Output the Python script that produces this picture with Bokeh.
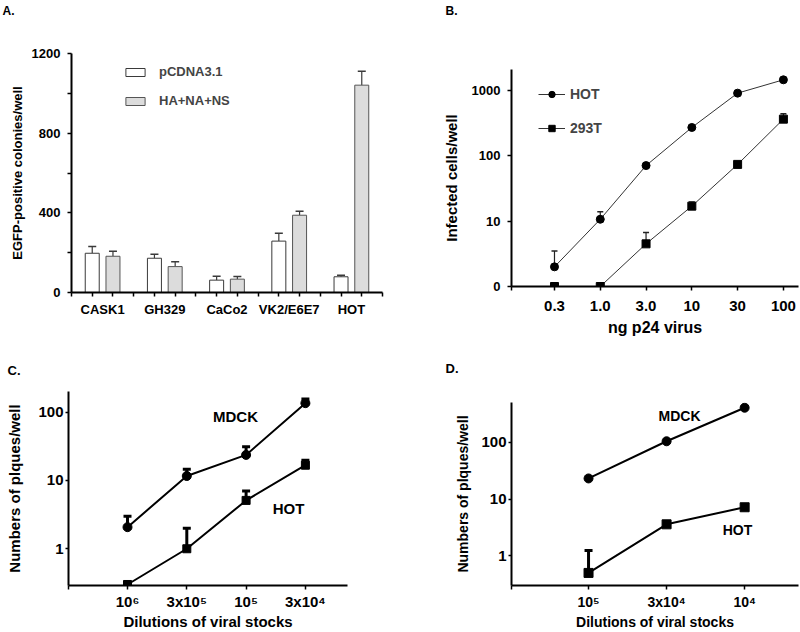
from bokeh.plotting import figure
from bokeh.models import (ColumnDataSource, FixedTicker, Whisker, TeeHead, Legend,
                          LegendItem, Label, Range1d, Title)
from bokeh.layouts import row, column
from bokeh.embed import file_html
from bokeh.resources import INLINE

FONT = "Liberation Sans"

# ---------------- data ----------------
# Panel A
cell_lines = ["CASK1", "GH329", "CaCo2", "VK2/E6E7", "HOT"]
pcdna_values = [197, 172, 62, 258, 79]
pcdna_errors = [34, 20, 20, 40, 8]
hanans_values = [182, 130, 67, 388, 1041]
hanans_errors = [25, 24, 13, 20, 70]
a_yticks = [0, 400, 800, 1200]
a_minor_yticks = [200, 600, 1000]

# Panel B
p24_doses = ["0.3", "1.0", "3.0", "10", "30", "100"]
b_hot_values = [2.0, 10.7, 71, 272, 913, 1460]
b_hot_errors = [1.5, 3.3, 5, 0, 0, 0]
b_293t_values = [1, 1, 4.5, 17, 74, 365]
b_293t_errors = [0, 0, 2.2, 2.6, 0, 76]
b_yticks = [1, 10, 100, 1000]
b_ytick_labels = ["0", "10", "100", "1000"]

# Panel C
c_dilutions = ["10\u2076", "3x10\u2075", "10\u2075", "3x10\u2074"]
c_mdck_values = [2.07, 11.6, 23.6, 135]
c_mdck_errors = [0.93, 3.0, 7.4, 20]
c_hot_values = [0.3, 1.0, 5.1, 16.7]
c_hot_errors = [0, 1.0, 1.9, 3.1]

# Panel D
d_dilutions = ["10\u2075", "3x10\u2074", "10\u2074"]
d_mdck_values = [23.2, 105, 410]
d_hot_values = [0.5, 3.6, 7.2]
d_hot_errors = [0.74, 0, 0]

cd_yticks = [1, 10, 100]


def make_fig(w, h, bl, br, bt, bb, xr, yr, ytype="linear"):
    p = figure(width=w, height=h, x_range=xr, y_range=yr, y_axis_type=ytype,
               output_backend="svg", toolbar_location=None, title=None,
               min_border_left=bl, min_border_right=br,
               min_border_top=bt, min_border_bottom=bb)
    p.frame_align = False
    p.grid.visible = False
    p.outline_line_color = None
    p.background_fill_color = "white"
    for ax in (p.xaxis[0], p.yaxis[0]):
        ax.axis_line_width = 2
        ax.axis_line_color = "black"
        ax.major_tick_line_color = "black"
        ax.major_tick_line_width = 1.5
        ax.minor_tick_line_color = "black"
        ax.minor_tick_line_width = 1.5
        ax.major_tick_in = 0
        ax.minor_tick_in = 0
        ax.major_tick_out = 4
        ax.minor_tick_out = 4
        ax.major_label_text_font = FONT
        ax.major_label_text_font_style = "bold"
        ax.major_label_text_color = "black"
        ax.axis_label_text_font = FONT
        ax.axis_label_text_font_style = "bold"
        ax.axis_label_text_color = "black"
    return p


def panel_title(p, text, offset, gap, size="13px"):
    # spacer title next to the frame, then the panel letter above it
    p.add_layout(Title(text=" ", text_font_size="1px", standoff=gap), "above")
    p.add_layout(Title(text=text, align="left", offset=offset, standoff=0,
                       vertical_align="bottom", text_font=FONT,
                       text_font_style="bold", text_font_size=size,
                       text_color="black"), "above")


def whiskers(p, xs, vals, errs, color, lw, head, hlw):
    keep = [i for i, e in enumerate(errs) if e > 0]
    src = ColumnDataSource(dict(base=[xs[i] for i in keep],
                                lower=[vals[i] for i in keep],
                                upper=[vals[i] + errs[i] for i in keep]))
    w = Whisker(source=src, base="base", lower="lower", upper="upper",
                dimension="height", line_color=color, line_width=lw,
                lower_head=None,
                upper_head=TeeHead(size=head, line_color=color, line_width=hlw))
    p.add_layout(w)


TOP_H = 340
BOT_H = 632 - TOP_H

# ---------------- Panel A ----------------
nA = len(cell_lines)
xa = list(range(1, nA + 1))
off = 1 / 6
pA = make_fig(400, TOP_H, 71, 18, 53, TOP_H - 292, Range1d(0.5, nA + 0.5), Range1d(0, 1200))
srcA = ColumnDataSource(dict(x_pc=[x - off for x in xa], x_ha=[x + off for x in xa],
                             pc=pcdna_values, ha=hanans_values))
r_pc = pA.vbar(x="x_pc", top="pc", width=0.225, source=srcA, fill_color="white",
               line_color="#3a3a3a", line_width=1)
r_ha = pA.vbar(x="x_ha", top="ha", width=0.225, source=srcA, fill_color="#dcdcdc",
               line_color="#555555", line_width=1)
whiskers(pA, [x - off for x in xa], pcdna_values, pcdna_errors, "#3a3a3a", 1.2, 8, 1.5)
whiskers(pA, [x + off for x in xa], hanans_values, hanans_errors, "#3a3a3a", 1.2, 8, 1.5)
pA.yaxis.ticker = FixedTicker(ticks=a_yticks, minor_ticks=a_minor_yticks)
pA.yaxis.major_label_text_font_size = "13px"
pA.yaxis.major_label_standoff = 7
pA.yaxis.axis_label = "EGFP-positive colonies/well"
pA.yaxis.axis_label_text_font_size = "13px"
pA.yaxis.axis_label_standoff = 4
pA.xaxis.ticker = FixedTicker(ticks=xa, minor_ticks=[0.5 + k / 3 for k in range(3 * nA + 1)])
pA.xaxis.major_label_overrides = {x: c for x, c in zip(xa, cell_lines)}
pA.xaxis.major_tick_out = 0
pA.xaxis.major_label_text_font_size = "13px"
pA.xaxis.major_label_standoff = 5
legA = Legend(items=[LegendItem(label="pCDNA3.1", renderers=[r_pc]),
                     LegendItem(label="HA+NA+NS", renderers=[r_ha])],
              location=(52, 184), glyph_width=24, glyph_height=10, label_standoff=12,
              spacing=14, padding=0, margin=0, border_line_color=None,
              background_fill_alpha=0, label_text_font=FONT,
              label_text_font_style="bold", label_text_font_size="13px")
pA.add_layout(legA)
panel_title(pA, "A.", -69, 33, "12px")

# ---------------- Panel B ----------------
nB = len(p24_doses)
xb = list(range(1, nB + 1))
pB = make_fig(400, TOP_H, 111, 2, 69, TOP_H - 286, Range1d(0.061, 6.33), Range1d(1, 2100), "log")
l1 = pB.line(xb, b_hot_values, line_color="#333333", line_width=1)
m1 = pB.scatter(xb, b_hot_values, marker="circle", size=8, fill_color="black", line_color="black")
l2 = pB.line(xb, b_293t_values, line_color="#333333", line_width=1)
m2 = pB.scatter(xb, b_293t_values, marker="square", size=8, fill_color="black", line_color="black")
whiskers(pB, xb, b_hot_values, b_hot_errors, "#222222", 1.2, 6, 1.5)
whiskers(pB, xb, b_293t_values, b_293t_errors, "#222222", 1.2, 6, 1.5)
pB.yaxis.ticker = FixedTicker(ticks=b_yticks)
pB.yaxis.major_label_overrides = {t: s for t, s in zip(b_yticks, b_ytick_labels)}
pB.yaxis.major_label_text_font_size = "13px"
pB.yaxis.major_label_standoff = 7
pB.yaxis.axis_label = "Infected cells/well"
pB.yaxis.axis_label_text_font_size = "15px"
pB.yaxis.axis_label_standoff = 9
pB.xaxis.ticker = FixedTicker(ticks=xb, minor_ticks=[0.061])
pB.xaxis.major_label_overrides = {x: d for x, d in zip(xb, p24_doses)}
pB.xaxis.major_label_text_font_size = "15px"
pB.xaxis.major_label_standoff = 10
pB.xaxis.axis_label = "ng p24 virus"
pB.xaxis.axis_label_text_font_size = "16px"
pB.xaxis.axis_label_standoff = 5
legB = Legend(items=[LegendItem(label="HOT", renderers=[l1, m1]),
                     LegendItem(label="293T", renderers=[l2, m2])],
              location=(27, 150), glyph_width=27, glyph_height=16, label_standoff=5,
              spacing=18, padding=0, margin=0, border_line_color=None,
              background_fill_alpha=0, label_text_font=FONT,
              label_text_font_style="bold", label_text_font_size="14px")
pB.add_layout(legB)
panel_title(pB, "B.", -66, 49, "12px")

# ---------------- Panel C ----------------
nC = len(c_dilutions)
xc = list(range(1, nC + 1))
pC = make_fig(400, BOT_H, 68, 53, 391 - TOP_H, 632 - 586, Range1d(0.005, 4.71),
              Range1d(0.29, 200), "log")
pC.line(xc, c_mdck_values, line_color="black", line_width=2)
pC.scatter(xc, c_mdck_values, marker="circle", size=9, fill_color="black", line_color="black")
pC.line(xc, c_hot_values, line_color="black", line_width=2)
pC.scatter(xc, c_hot_values, marker="square", size=8, fill_color="black", line_color="black")
whiskers(pC, xc, c_mdck_values, c_mdck_errors, "black", 3, 8, 3)
whiskers(pC, xc, c_hot_values, c_hot_errors, "black", 3, 8, 3)
pC.yaxis.ticker = FixedTicker(ticks=cd_yticks)
pC.yaxis.major_label_overrides = {t: str(t) for t in cd_yticks}
pC.yaxis.major_label_text_font_size = "15px"
pC.yaxis.major_label_standoff = 2
pC.yaxis.major_tick_out = 3
pC.yaxis.axis_label = "Numbers of plques/well"
pC.yaxis.axis_label_text_font_size = "15px"
pC.yaxis.axis_label_standoff = 12
pC.xaxis.ticker = FixedTicker(ticks=xc, minor_ticks=[0.005])
pC.xaxis.major_label_overrides = {x: d for x, d in zip(xc, c_dilutions)}
pC.xaxis.major_label_text_font_size = "15px"
pC.xaxis.major_label_standoff = 3
pC.xaxis.axis_label = "Dilutions of viral stocks"
pC.xaxis.axis_label_text_font_size = "15px"
pC.xaxis.axis_label_standoff = 0
for txt, x, y in (("MDCK", 167, 169), ("HOT", 220, 77)):
    pC.add_layout(Label(x=x, y=y, x_units="screen", y_units="screen", text=txt,
                        text_font=FONT, text_font_style="bold", text_font_size="15px",
                        text_align="center", text_baseline="middle", text_color="black"))
panel_title(pC, "C.", -61, 11)

# ---------------- Panel D ----------------
nD = len(d_dilutions)
xd = list(range(1, nD + 1))
pD = make_fig(400, BOT_H, 111, 2, 402 - TOP_H, 632 - 587, Range1d(0.013, 3.69),
              Range1d(0.30, 507), "log")
pD.line(xd, d_mdck_values, line_color="black", line_width=2)
pD.scatter(xd, d_mdck_values, marker="circle", size=9, fill_color="black", line_color="black")
pD.line(xd, d_hot_values, line_color="black", line_width=2)
pD.scatter(xd, d_hot_values, marker="square", size=9, fill_color="black", line_color="black")
whiskers(pD, xd, d_hot_values, d_hot_errors, "black", 3, 8, 3)
pD.yaxis.ticker = FixedTicker(ticks=cd_yticks)
pD.yaxis.major_label_overrides = {t: str(t) for t in cd_yticks}
pD.yaxis.major_label_text_font_size = "15px"
pD.yaxis.major_label_standoff = 2
pD.yaxis.major_tick_out = 3
pD.yaxis.axis_label = "Numbers of plques/well"
pD.yaxis.axis_label_text_font_size = "14px"
pD.yaxis.axis_label_standoff = 7
pD.xaxis.ticker = FixedTicker(ticks=xd, minor_ticks=[0.013])
pD.xaxis.major_label_overrides = {x: d for x, d in zip(xd, d_dilutions)}
pD.xaxis.major_label_text_font_size = "14px"
pD.xaxis.major_label_standoff = 4
pD.xaxis.axis_label = "Dilutions of viral stocks"
pD.xaxis.axis_label_text_font_size = "14px"
pD.xaxis.axis_label_standoff = 1
for txt, x, y in (("MDCK", 168, 170), ("HOT", 226, 56)):
    pD.add_layout(Label(x=x, y=y, x_units="screen", y_units="screen", text=txt,
                        text_font=FONT, text_font_style="bold", text_font_size="14px",
                        text_align="center", text_baseline="middle", text_color="black"))
panel_title(pD, "D.", -66, 24)

layout = column(row(pA, pB), row(pC, pD))
open("out.html", "w").write(file_html(layout, INLINE))
